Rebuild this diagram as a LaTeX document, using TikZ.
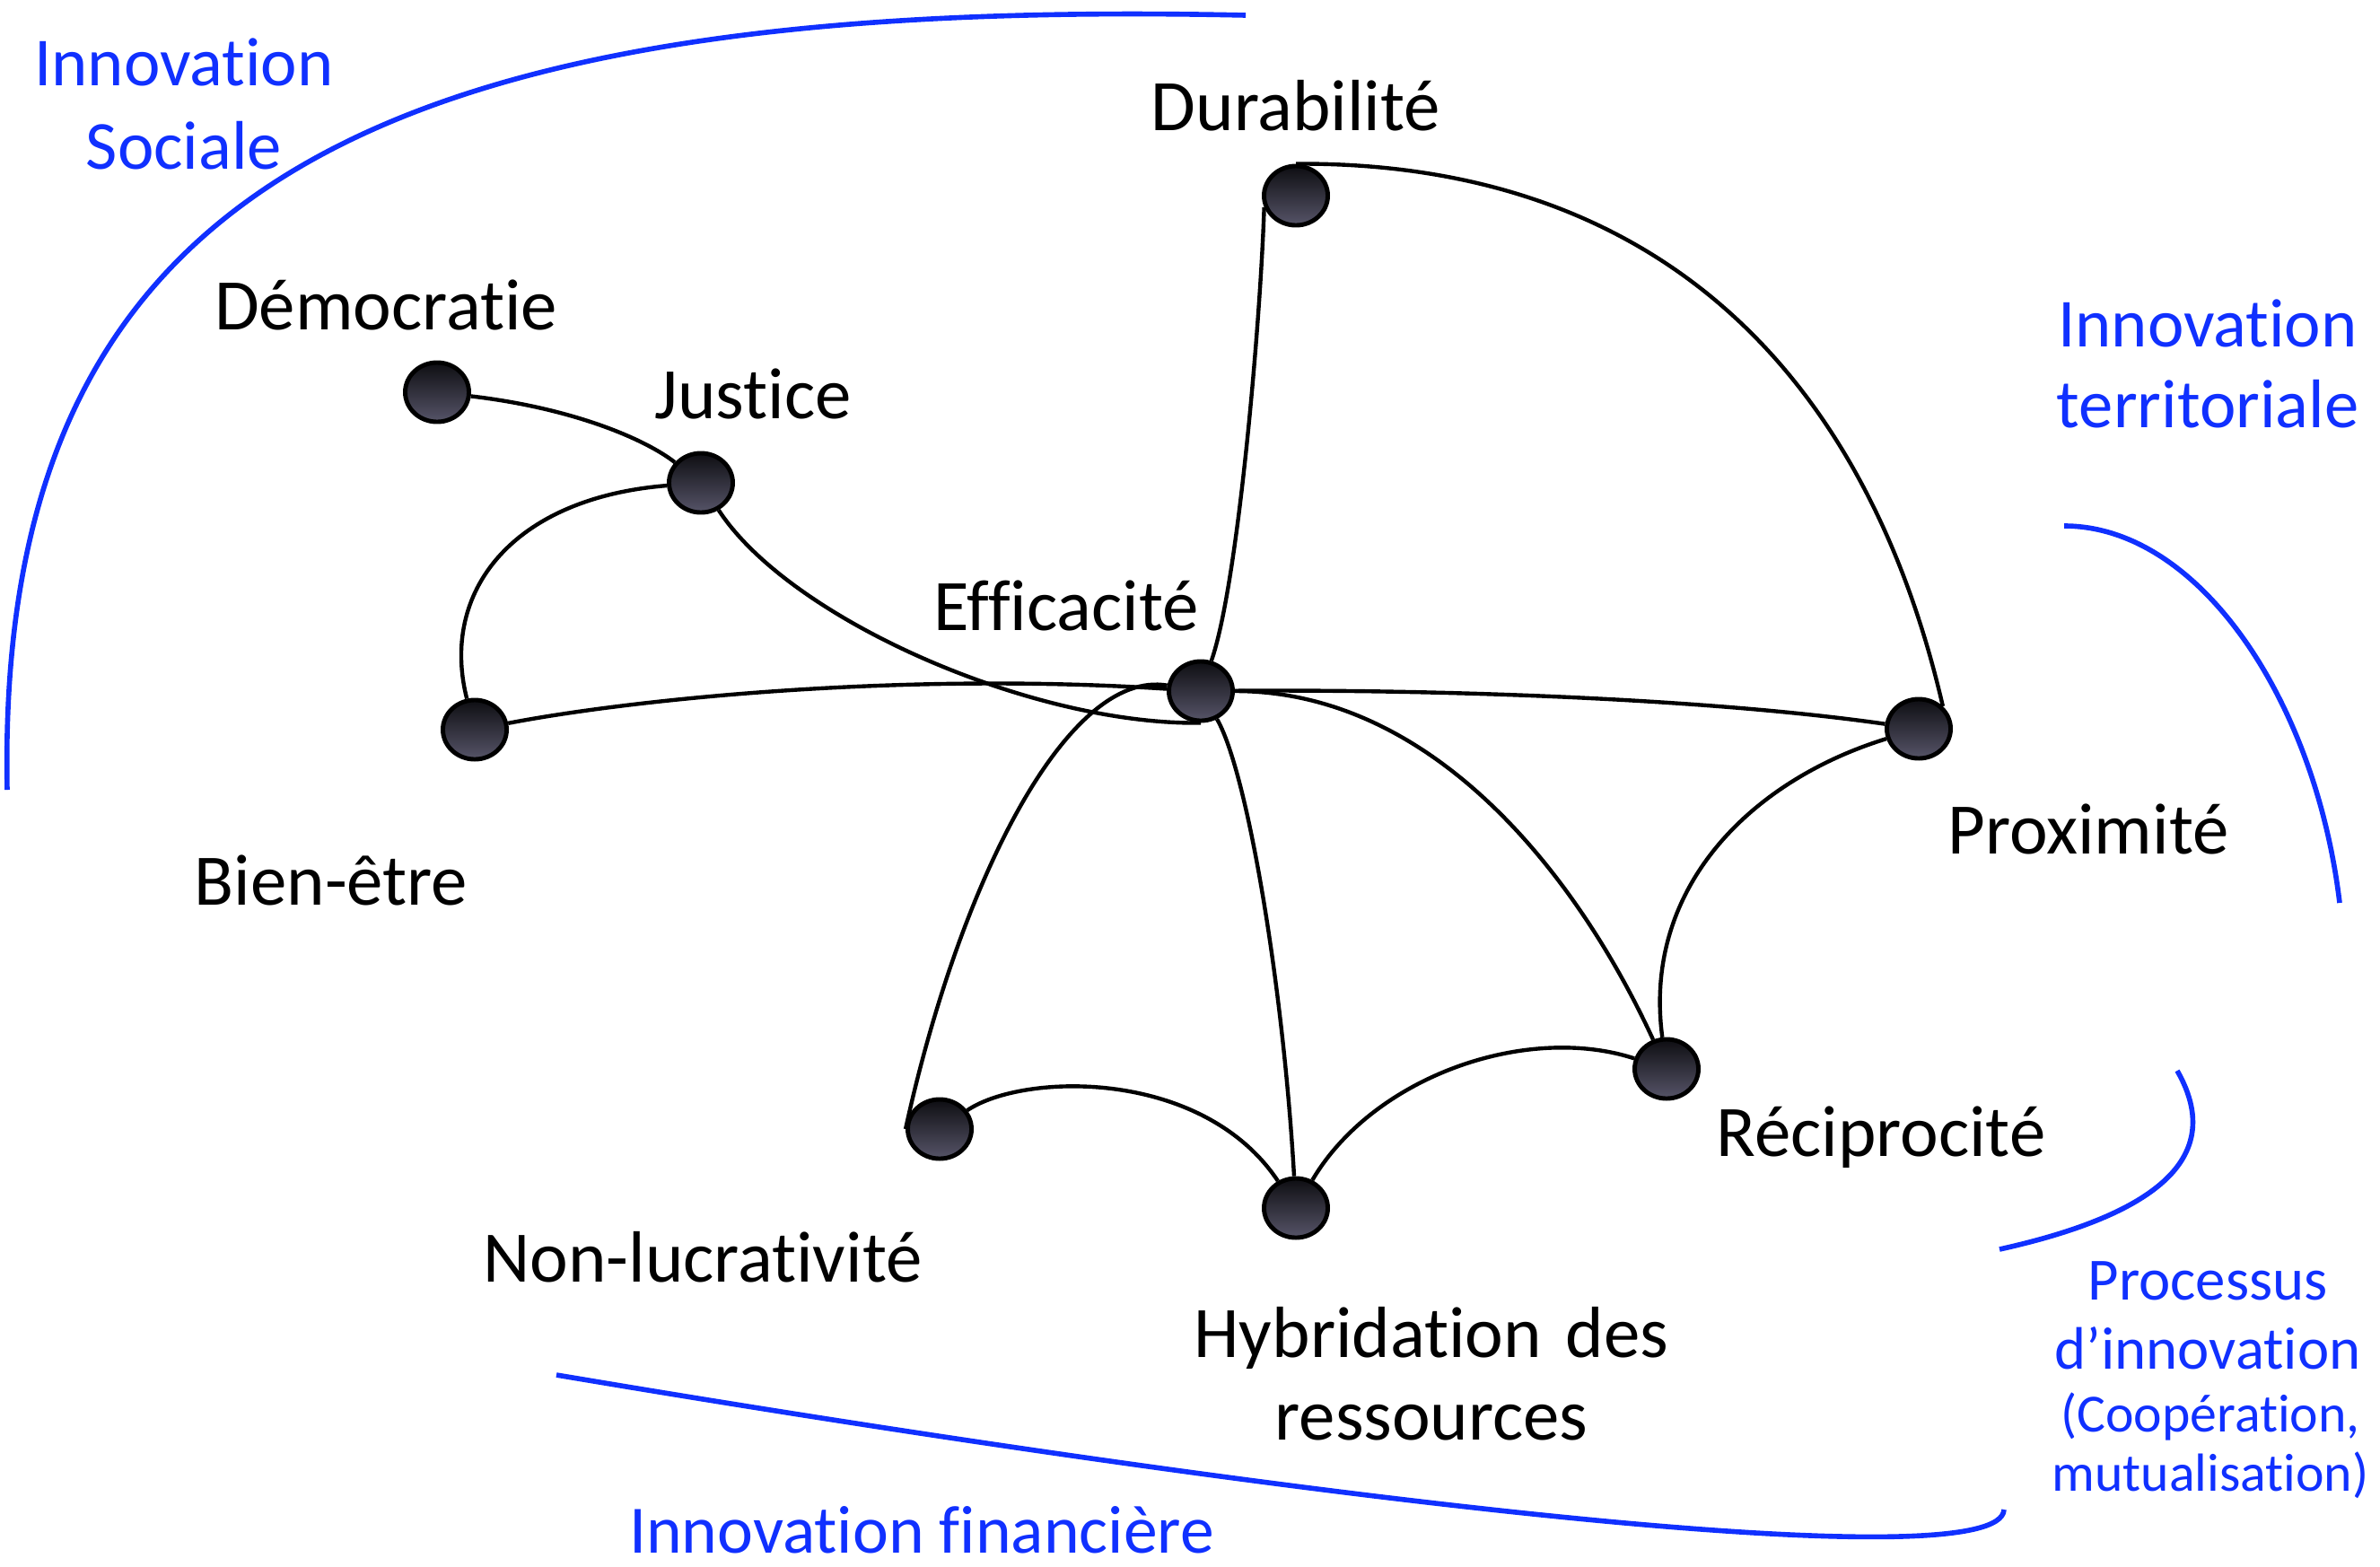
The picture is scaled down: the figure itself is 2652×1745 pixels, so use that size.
\documentclass[tikz,border=0pt]{standalone}
\usepackage{fontspec}
\setmainfont{Carlito}[Ligatures=NoCommon]
\usepackage{tikz}
\usetikzlibrary{shapes.geometric,backgrounds}

\definecolor{InnoBlue}{RGB}{16,48,255}
\definecolor{BallTop}{RGB}{14,14,18}
\definecolor{BallBottom}{RGB}{86,84,104}

\begin{document}
\begin{tikzpicture}[x=.01cm,y=-.01cm,
                    ball/.style={ellipse,draw,line width=1.4pt,minimum width=.71cm,minimum height=.66cm,inner sep=0pt,top color=BallTop,bottom color=BallBottom},
                    link/.style={line width=1.25pt},
                    rim/.style={InnoBlue,line width=1.6pt},
                    basetext/.style={anchor=base,inner sep=0pt,text centered,font={\fontsize{23}{26.5}\selectfont}},
                    lbl/.style={basetext},
                    area/.style={basetext,text=InnoBlue,font={\fontsize{21.5}{26.5}\selectfont}}]
  \useasboundingbox (0,0) rectangle (2652,1745);
  % values
  \node[ball] (dur) at (1444,218) {};
  \node[ball] (dem) at (487,437) {};
  \node[ball] (jus) at (781,538) {};
  \node[ball] (bien) at (529,813) {};
  \node[ball] (eff) at (1338,770) {};
  \node[ball] (prox) at (2138,812) {};
  \node[ball] (rec) at (1857,1191) {};
  \node[ball] (nonl) at (1047,1258) {};
  \node[ball] (hyb) at (1444,1346) {};
  % labels
  \node[lbl] (dur-l) at (1444,145) {Durabilité};
  \node[lbl] (dem-l) at (430,367) {Démocratie};
  \node[lbl] (jus-l) at (839,466) {Justice};
  \node[lbl] (eff-l) at (1188,702) {Efficacité};
  \node[lbl] (bien-l) at (369,1008) {Bien-être};
  \node[lbl] (prox-l) at (2327,951) {Proximité};
  \node[lbl] (rec-l) at (2096,1288) {Réciprocité};
  \node[lbl] (nonl-l) at (783,1428) {Non-lucrativité};
  \node[lbl,text width=6cm,font={\fontsize{23}{26.2}\selectfont}] (hyb-l) at (1595,1512) {Hybridation des\\ressources};
  % fields
  \node[area,text width=4cm,font={\fontsize{21.8}{26.7}\selectfont}] (soc) at (205,95) {Innovation\\Sociale};
  \node[area,text width=4cm,font={\fontsize{21.8}{25.6}\selectfont}] (terr) at (2460,386) {Innovation\\territoriale};
  \node[area] (fin) at (1027,1730) {Innovation financière};
  \node[area,text width=4cm,font={\fontsize{19}{21.9}\selectfont}] (proc) at (2460,1448) {Processus\\d’innovation};
  \node[area,text width=4cm,font={\fontsize{17}{19}\selectfont}] (coop) at (2463,1595) {(Coopération,\\mutualisation)};
  \begin{scope}[on background layer]
    \draw[link] (dem) .. controls (640,455) and (720,490) .. (jus);
    \draw[link] (jus) .. controls (880,690) and (1150,808) .. (eff.south);
    \draw[link] (jus) .. controls (570,555) and (490,660) .. (bien);
    \draw[link] (bien) .. controls (700,780) and (1000,748) .. (eff);
    \draw[link] (eff) .. controls (1380,650) and (1405,350) .. (dur.200);
    \draw[link] (dur.north) .. controls (1850,180) and (2080,420) .. (prox.north east);
    \draw[link] (eff) .. controls (1600,768) and (1900,778) .. (prox);
    \draw[link] (eff) .. controls (1190,745) and (1070,980) .. (nonl.west);
    \draw[link] (eff) .. controls (1390,860) and (1430,1100) .. (hyb);
    \draw[link] (eff) .. controls (1600,770) and (1760,980) .. (rec);
    \draw[link] (prox) .. controls (1950,870) and (1830,990) .. (rec);
    \draw[link] (nonl) .. controls (1140,1195) and (1340,1190) .. (hyb);
    \draw[link] (hyb) .. controls (1530,1200) and (1700,1140) .. (rec);
  \end{scope}
  \draw[rim] (1388,17) .. controls (400,-5) and (-5,220) .. (8,880);
  \draw[rim] (2300,586) .. controls (2450,586) and (2580,780) .. (2607,1006);
  \draw[rim] (2426,1193) .. controls (2470,1270) and (2440,1345) .. (2228,1392);
  \draw[rim] (620,1532) .. controls (1500,1680) and (2230,1760) .. (2233,1682);
\end{tikzpicture}
\end{document}
